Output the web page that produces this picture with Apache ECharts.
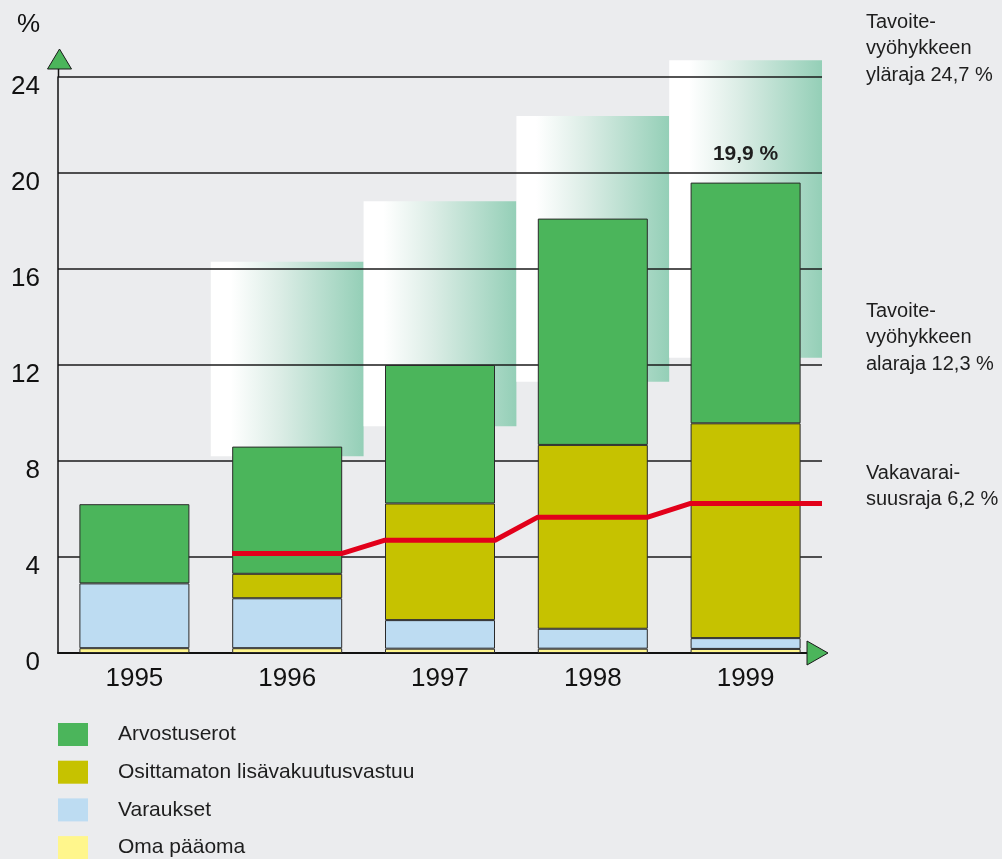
<!DOCTYPE html>
<html>
<head>
<meta charset="utf-8">
<script src="https://cdn.jsdelivr.net/npm/echarts@6/dist/echarts.min.js"></script>
<style>
  html, body { margin: 0; padding: 0; background: #ebecee; }
  #main { width: 1002px; height: 859px; }
</style>
</head>
<body>
<div id="main"></div>
<script>
// values (%)
var years = ['1995', '1996', '1997', '1998', '1999'];
var omaPaaoma = [0.2, 0.2, 0.18, 0.18, 0.17];
var varaukset = [2.7, 2.08, 1.19, 0.83, 0.45];
var osittamaton = [null, 1.02, 4.86, 7.66, 8.95];
var arvostuserot = [3.3, 5.3, 5.77, 9.43, 10.03];
var topLabels = ['', '', '', '', '19,9 %'];
// target zone (tavoitevyöhyke) lower and upper limits
var zoneLow = [null, 8.2, 9.45, 11.3, 12.3];
var zoneHigh = [null, 16.3, 18.82, 22.38, 24.7];
// solvency limit (vakavaraisuusraja)
var vakavaraisuus = [null, 4.15, 4.7, 5.66, 6.23];
var yTicks = [0, 4, 8, 12, 16, 20, 24];

var FONT = '"Liberation Sans", Arial, Helvetica, sans-serif';
var TXT = '#1e1e1e';
var barPx = 110;
var halfBar = 0.36; // bar half width in category units

var zoneRange = zoneLow.map(function (v, i) {
    return v == null ? null : +(zoneHigh[i] - v).toFixed(2);
});

// red line runs across each bar and slants between them
var limitLine = [];
vakavaraisuus.forEach(function (v, i) {
    if (v == null) return;
    limitLine.push([i + 0.5 - halfBar, v]);
    limitLine.push([i === years.length - 1 ? years.length : i + 0.5 + halfBar, v]);
});

var barBorder = { borderColor: '#2a2a2a', borderWidth: 1 };

var chart = echarts.init(document.getElementById('main'));
var option = {
    backgroundColor: '#ebecee',
    textStyle: { fontFamily: FONT },
    animation: false,
    grid: { left: 58, right: 180, top: 77, bottom: 206 },
    legend: {
        orient: 'vertical',
        left: 58,
        top: 723,
        height: 150,
        padding: 0,
        itemWidth: 30,
        itemHeight: 23,
        itemGap: 14.7,
        icon: 'rect',
        itemStyle: { borderWidth: 0 },
        textStyle: { fontSize: 21, color: TXT, padding: [0, 0, 0, 25] },
        data: ['Arvostuserot', 'Osittamaton lisävakuutusvastuu', 'Varaukset', 'Oma pääoma']
    },
    xAxis: [{
        type: 'category',
        data: years,
        z: 4,
        axisLine: { lineStyle: { color: '#111', width: 2 } },
        axisTick: { show: false },
        axisLabel: { fontSize: 26, color: '#111', margin: 13 }
    }, {
        type: 'category',
        data: years,
        show: false
    }, {
        type: 'value',
        min: 0,
        max: years.length,
        show: false
    }],
    yAxis: {
        type: 'value',
        min: 0,
        max: 24,
        interval: 4,
        z: 3,
        axisLine: { show: true, lineStyle: { color: '#111', width: 1.5 } },
        axisTick: { show: false },
        splitLine: { lineStyle: { color: '#1a1a1a', width: 1.5 } },
        axisLabel: {
            fontSize: 26, color: '#111', margin: 18,
            verticalAlign: 'top',
            lineHeight: 19,
            formatter: function (v) { return yTicks.indexOf(v) >= 0 ? String(v) : ''; }
        }
    },
    series: [{
        name: 'zoneBase',
        type: 'bar',
        xAxisIndex: 1,
        stack: 'zone',
        barWidth: '100%',
        clip: false,
        z: 1,
        silent: true,
        itemStyle: { color: 'rgba(0,0,0,0)' },
        data: zoneLow
    }, {
        name: 'zone',
        type: 'bar',
        xAxisIndex: 1,
        stack: 'zone',
        barWidth: '100%',
        clip: false,
        z: 1,
        silent: true,
        itemStyle: {
            color: new echarts.graphic.LinearGradient(0, 0, 1, 0, [
                { offset: 0, color: '#ffffff' },
                { offset: 0.13, color: '#ffffff' },
                { offset: 0.45, color: '#dcede6' },
                { offset: 1, color: '#94cfb7' }
            ])
        },
        data: zoneRange
    }, {
        name: 'Oma pääoma',
        type: 'bar',
        stack: 'main',
        barWidth: barPx,
        z: 5,
        itemStyle: Object.assign({ color: '#fff68c' }, barBorder),
        data: omaPaaoma
    }, {
        name: 'Varaukset',
        type: 'bar',
        stack: 'main',
        z: 5,
        itemStyle: Object.assign({ color: '#bddcf2' }, barBorder),
        data: varaukset
    }, {
        name: 'Osittamaton lisävakuutusvastuu',
        type: 'bar',
        stack: 'main',
        z: 5,
        itemStyle: Object.assign({ color: '#c6c200' }, barBorder),
        data: osittamaton
    }, {
        name: 'Arvostuserot',
        type: 'bar',
        stack: 'main',
        z: 5,
        itemStyle: Object.assign({ color: '#4bb55b' }, barBorder),
        label: {
            show: true,
            position: 'top',
            distance: 18,
            fontSize: 21,
            fontWeight: 'bold',
            color: TXT,
            formatter: function (p) { return topLabels[p.dataIndex]; }
        },
        data: arvostuserot
    }, {
        name: 'Vakavaraisuusraja',
        type: 'line',
        xAxisIndex: 2,
        z: 6,
        symbol: 'none',
        lineStyle: { color: '#e2001a', width: 5 },
        data: limitLine
    }]
};
chart.setOption(option);

// axis arrows and side notes
var origin = chart.convertToPixel({ xAxisIndex: 2, yAxisIndex: 0 }, [0, 0]);
var top24 = chart.convertToPixel({ xAxisIndex: 2, yAxisIndex: 0 }, [0, 24]);
var right = chart.convertToPixel({ xAxisIndex: 2, yAxisIndex: 0 }, [years.length, 0]);
var ax = origin[0] + 0.5;
var ay = origin[1];
var tipY = top24[1] - 28;
var noteStyle = { fontSize: 20, fontFamily: FONT, fill: TXT, lineHeight: 26.5 };

chart.setOption({
    graphic: [{
        type: 'line',
        z: 10,
        shape: { x1: ax, y1: top24[1], x2: ax, y2: tipY + 20 },
        style: { stroke: '#111', lineWidth: 1.5 }
    }, {
        type: 'polygon',
        z: 10,
        shape: { points: [[ax + 1, tipY], [ax - 11, tipY + 20], [ax + 13, tipY + 20]] },
        style: { fill: '#4bb55b', stroke: '#1a1a1a', lineWidth: 1 }
    }, {
        type: 'polygon',
        z: 10,
        shape: { points: [[right[0] - 15, ay - 12], [right[0] + 6, ay], [right[0] - 15, ay + 12]] },
        style: { fill: '#4bb55b', stroke: '#1a1a1a', lineWidth: 1 }
    }, {
        type: 'text',
        left: 17,
        top: 12,
        style: { text: '%', fontSize: 26, fontFamily: FONT, fill: '#111' }
    }, {
        type: 'text',
        left: 866,
        top: 9,
        style: Object.assign({ text: 'Tavoite-\nvyöhykkeen\nyläraja 24,7 %' }, noteStyle)
    }, {
        type: 'text',
        left: 866,
        top: 298,
        style: Object.assign({ text: 'Tavoite-\nvyöhykkeen\nalaraja 12,3 %' }, noteStyle)
    }, {
        type: 'text',
        left: 866,
        top: 460,
        style: Object.assign({ text: 'Vakavarai-\nsuusraja 6,2 %' }, noteStyle)
    }]
});
</script>
</body>
</html>
